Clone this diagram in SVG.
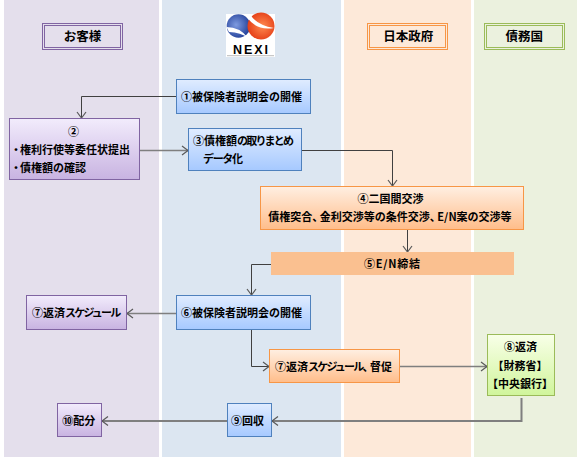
<svg xmlns="http://www.w3.org/2000/svg" width="580" height="457" viewBox="0 0 580 457">
<style>
text{font-family:"Noto Sans CJK JP","Liberation Sans",sans-serif;font-weight:700;font-size:11px;fill:#000}
.m{text-anchor:middle}
.h{font-size:12.5px;text-anchor:middle}
.k{letter-spacing:-1.8px}
.d{letter-spacing:-3.5px}
.c{fill:none;stroke:#404040;stroke-width:1;marker-end:url(#a)}
.t{fill:none;stroke:#7f7f7f;stroke-width:1.5;marker-end:url(#a)}
.b{fill:url(#gb);stroke:#4f81bd}
.p{fill:url(#gp);stroke:#8064a2}
.o{fill:url(#go);stroke:#f79646}
.g{fill:url(#gg);stroke:#9bbb59}
</style>
<defs>
<linearGradient id="gb" x1="0" y1="0" x2="0" y2="1"><stop offset="0" stop-color="#e0ecff"/><stop offset="1" stop-color="#a6c9ff"/></linearGradient>
<linearGradient id="gp" x1="0" y1="0" x2="0" y2="1"><stop offset="0" stop-color="#f2ecfc"/><stop offset="1" stop-color="#c8b3e1"/></linearGradient>
<linearGradient id="go" x1="0" y1="0" x2="0" y2="1"><stop offset="0" stop-color="#ffefe2"/><stop offset="1" stop-color="#ffbd8a"/></linearGradient>
<linearGradient id="gg" x1="0" y1="0" x2="0" y2="1"><stop offset="0" stop-color="#f8ffe8"/><stop offset="1" stop-color="#d0f59b"/></linearGradient>
<radialGradient id="lb" cx="0.4" cy="0.45" r="0.65"><stop offset="0" stop-color="#7f9be0"/><stop offset="1" stop-color="#1c3a94"/></radialGradient>
<radialGradient id="lr" cx="0.55" cy="0.5" r="0.65"><stop offset="0" stop-color="#ff8a50"/><stop offset="1" stop-color="#e0300c"/></radialGradient>
<marker id="a" markerUnits="userSpaceOnUse" markerWidth="12" markerHeight="12" refX="7" refY="6" orient="auto"><path d="M1 1.500L7 6L1 10.500" fill="none" stroke="#595959" stroke-width="1.200"/></marker>
</defs>
<g id="lanes">
<rect x="4" y="0" width="155" height="457" fill="#e4dfec"/>
<rect x="162" y="0" width="179" height="457" fill="#dce6f1"/>
<rect x="344" y="0" width="127" height="457" fill="#fde9d9"/>
<rect x="474" y="0" width="103" height="457" fill="#ebf1de"/>
</g>
<g id="header-customer"><rect x="42.500" y="23.500" width="80" height="26" fill="none" stroke="#8064a2"/><rect x="44.500" y="25.500" width="76" height="22" fill="none" stroke="#8064a2"/><text class="h" x="82.500" y="41">お客様</text></g>
<g id="logo-nexi">
<rect x="226" y="14" width="49" height="43" fill="#fff"/>
<circle cx="238.500" cy="26" r="11.800" fill="url(#lb)"/>
<circle cx="261" cy="26" r="13.500" fill="url(#lr)"/>
<path d="M226.500 27Q240 27 248 38Q241 32.500 229 32Z" fill="#fff"/>
<path d="M250 14Q256 25 274 28Q257 31 247.500 18Z" fill="#fff"/>
<text x="250.500" y="53.500" class="m" style="font-family:'Liberation Sans',sans-serif;font-size:12.500px" textLength="35">NEXI</text>
<line x1="227" y1="55.700" x2="274" y2="55.700" stroke="#aaa" stroke-width=".8"/>
</g>
<g id="header-government"><rect x="367.500" y="23.500" width="80" height="26" fill="none" stroke="#f79646"/><rect x="369.500" y="25.500" width="76" height="22" fill="none" stroke="#f79646"/><text class="h" x="408.300" y="41">日本政府</text></g>
<g id="header-debtor"><rect x="484.500" y="23.500" width="80" height="26" fill="none" stroke="#9bbb59"/><rect x="486.500" y="25.500" width="76" height="22" fill="none" stroke="#9bbb59"/><text class="h" x="524.300" y="41">債務国</text></g>
<g id="connectors">
<path class="c" d="M176 96.500H81.500V118"/>
<path class="t" d="M140 150.500H188"/>
<path class="c" d="M302 150.500H392.500V186"/>
<path class="c" d="M407.500 230V252"/>
<path class="c" d="M271 264.500H251.500V295"/>
<path class="t" d="M176 313.500H127"/>
<path class="c" d="M251.500 330V366.500H269"/>
<path class="t" d="M400 366.500H487"/>
<path class="t" style="stroke-width:2" d="M521.500 398V421H272"/>
<path class="t" style="stroke-width:2" d="M227 421H102"/>
</g>
<g id="n1"><rect class="b" x="176.500" y="79.500" width="134" height="34"/><text x="181" y="100.500">①被保険者説明会の開催</text></g>
<g id="n2"><rect class="p" x="9.500" y="118.500" width="130" height="61"/><text class="m" x="73.500" y="135.500">②</text><text x="10.500" y="153.500">・<tspan dx="-1.500">権利行使等委任状提出</tspan></text><text x="10.500" y="172">・<tspan dx="-1.500">債権額の確認</tspan></text></g>
<g id="n3"><rect class="b" x="188.500" y="128.500" width="113" height="42"/><text x="193" y="145">③債権額<tspan class="k">の取りまとめ</tspan></text><text x="203" y="163" textLength="40">データ化</text></g>
<g id="n4"><rect class="o" x="260.500" y="186.500" width="263" height="43"/><text class="m" x="390.500" y="203">④二国間交渉</text><text class="m" x="390" y="221">債権突合<tspan class="d">、</tspan>金利交渉等の条件交渉<tspan class="d">、</tspan>E/N案の交渉等</text></g>
<g id="n5"><rect x="271" y="252" width="243" height="23" fill="#fac090"/><text class="m" x="392" y="268" textLength="56">⑤E/N締結</text></g>
<g id="n7a"><rect class="p" x="26.500" y="295.500" width="100" height="34"/><text x="32" y="317">⑦返済<tspan class="k">スケジュール</tspan></text></g>
<g id="n6"><rect class="b" x="176.500" y="295.500" width="134" height="34"/><text x="181" y="317">⑥被保険者説明会の開催</text></g>
<g id="n7b"><rect class="o" x="269.500" y="349.500" width="130" height="33"/><text x="275" y="370.500">⑦返済<tspan class="k">スケジュール</tspan><tspan class="d">、</tspan>督促</text></g>
<g id="n8"><rect class="g" x="487.500" y="334.500" width="67" height="61"/><text class="m" x="520.500" y="351">⑧返済</text><text class="m" x="520" y="369.500">【財務省】</text><text class="m" x="520" y="388">【中央銀行】</text></g>
<g id="n9"><rect class="b" x="227.500" y="403.500" width="44" height="33"/><text class="m" x="247.500" y="424.500">⑨回収</text></g>
<g id="n10"><rect class="p" x="57.500" y="403.500" width="44" height="33"/><text class="m" x="78.700" y="424.500">⑩配分</text></g>
</svg>
